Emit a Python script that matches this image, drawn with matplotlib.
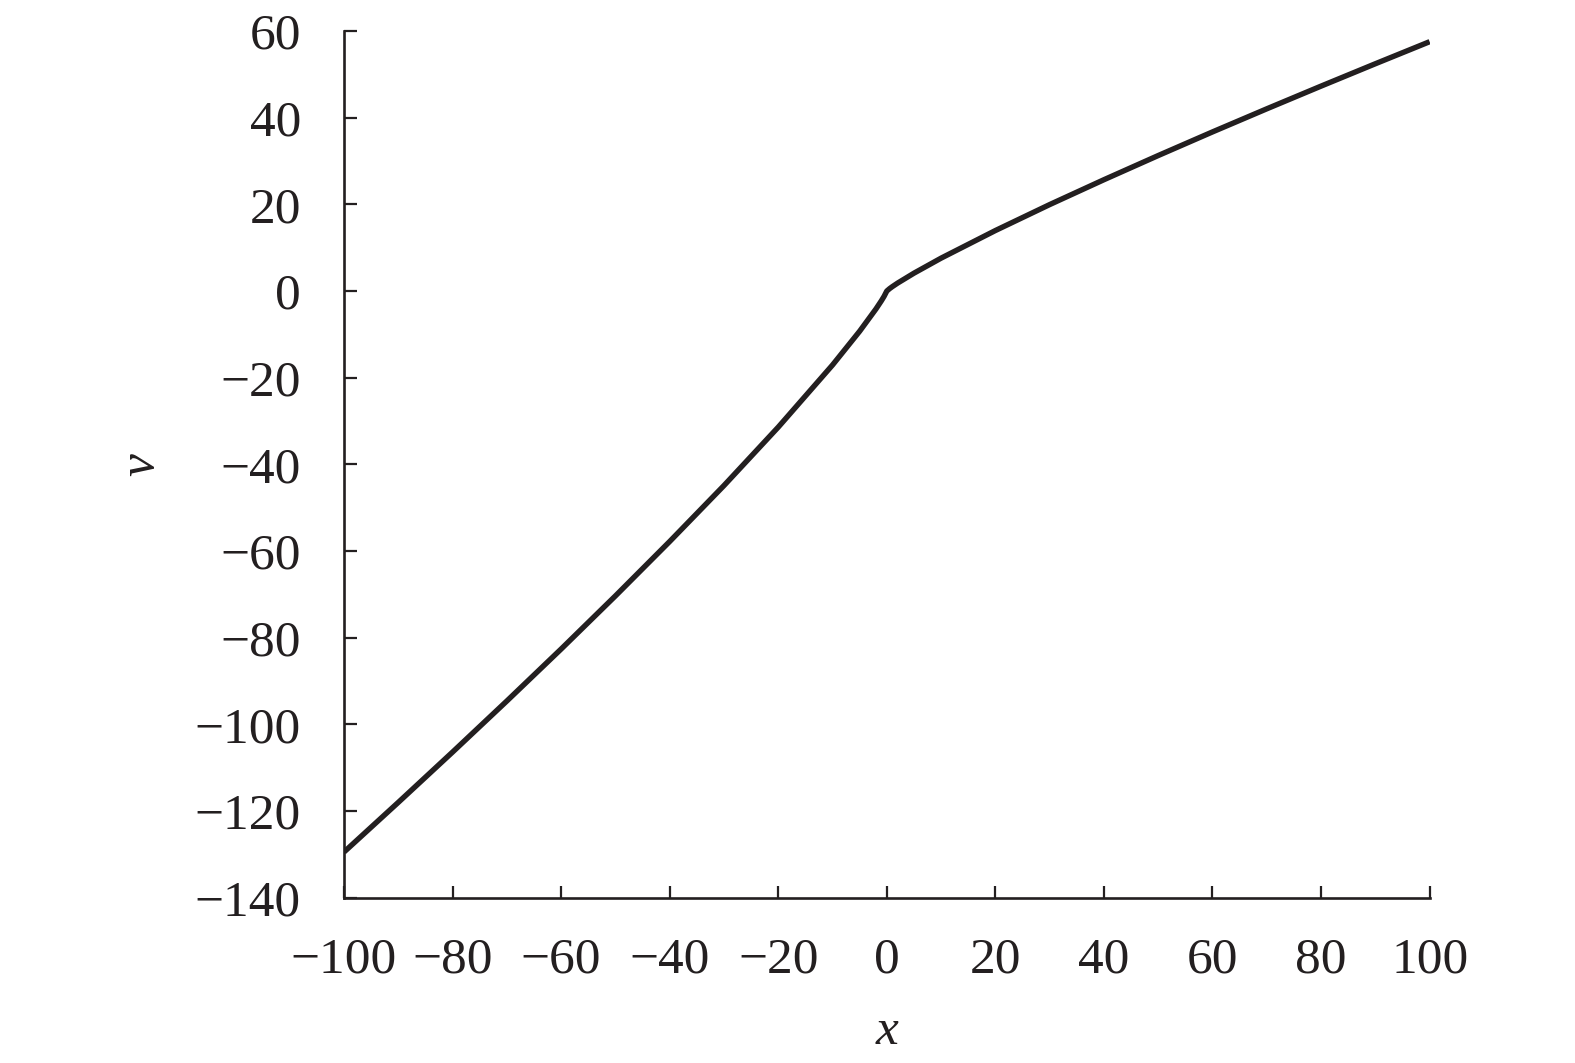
import matplotlib
matplotlib.use("Agg")
import matplotlib.pyplot as plt

# values
x_vals = [-100, -90, -80, -70, -60, -50, -40, -30, -20, -10, -5, -2, -1, -0.5, 0,
          0.5, 1, 2, 5, 10, 20, 30, 40, 50, 60, 70, 80, 90, 100]
v_vals = [-129.47, -118.01, -106.40, -94.61, -82.62, -70.36, -57.80, -44.89, -31.41,
          -17.07, -9.27, -4.14, -2.25, -1.22, 0.0,
          0.54, 1.0, 1.84, 4.12, 7.59, 13.96, 19.95, 25.69, 31.27, 36.72, 42.05,
          47.29, 52.45, 57.54]
x_ticks = [-100, -80, -60, -40, -20, 0, 20, 40, 60, 80, 100]
y_ticks = [60, 40, 20, 0, -20, -40, -60, -80, -100, -120, -140]

plt.rcParams['font.family'] = ['Liberation Serif', 'DejaVu Serif']
ink = '#231f20'

fig = plt.figure(figsize=(15.75, 10.63), dpi=100)
ax = fig.add_axes([0.2184, 0.1555, 0.6893, 0.8153])
ax.plot(x_vals, v_vals, color=ink, lw=3.9, solid_capstyle='butt', solid_joinstyle='round')
ax.set_xlim(-100, 100)
ax.set_ylim(-140, 60)
ax.set_xticks(x_ticks)
ax.set_yticks(y_ticks)
for s in ['top', 'right']:
    ax.spines[s].set_visible(False)
for s in ['left', 'bottom']:
    ax.spines[s].set_linewidth(1.9)
    ax.spines[s].set_color(ink)
ax.tick_params(axis='both', direction='in', length=9, width=1.6, colors=ink,
               labelsize=37, labelcolor=ink)
ax.tick_params(axis='y', pad=31)
ax.tick_params(axis='x', pad=28)
ax.set_xlabel('x', fontsize=37, style='italic', color=ink, labelpad=18)
ax.set_ylabel('v', fontsize=37, style='italic', color=ink, labelpad=22)
fig.savefig('out.png', dpi=100)
